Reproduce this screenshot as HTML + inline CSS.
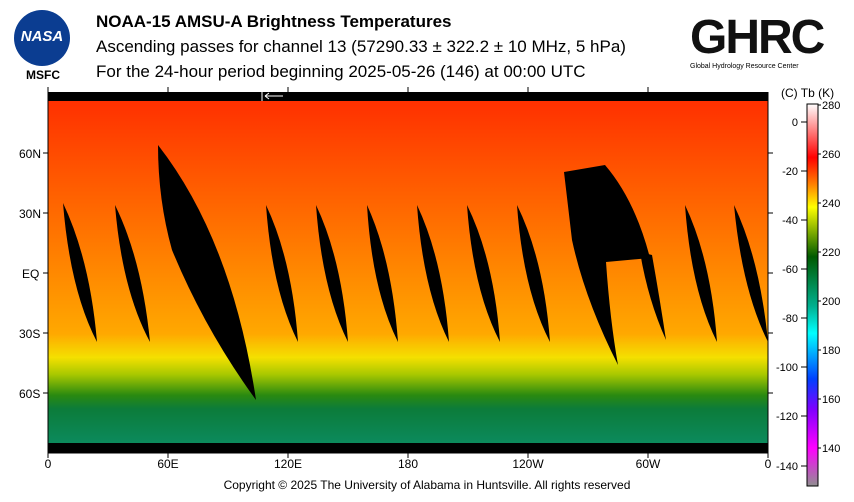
<!DOCTYPE html>
<html><head><meta charset="utf-8"><style>
body{margin:0;background:#fff;width:854px;height:502px;overflow:hidden;font-family:"Liberation Sans",Arial,sans-serif}
.t{position:absolute;left:96px;font-size:17px;color:#000;white-space:nowrap}
</style></head><body>
<div style="position:absolute;left:0;top:0;width:854px;height:502px">
<div style="position:absolute;left:14px;top:10px;width:56px;height:56px;border-radius:50%;background:#0b3d91"></div>
<div style="position:absolute;left:16px;top:28px;width:52px;font:bold italic 15px 'Liberation Sans';color:#fff;text-align:center">NASA</div>
<div style="position:absolute;left:26px;top:68px;font:bold 12px 'Liberation Sans'">MSFC</div>
<div class="t" style="top:12px;font-weight:bold">NOAA-15 AMSU-A Brightness Temperatures</div>
<div class="t" style="top:37px">Ascending passes for channel 13 (57290.33 ± 322.2 ± 10 MHz, 5 hPa)</div>
<div class="t" style="top:62px">For the 24-hour period beginning 2025-05-26 (146) at 00:00 UTC</div>
<div style="position:absolute;left:690px;top:10px;font:bold 48px 'Liberation Sans';letter-spacing:-2px;color:#111">GHRC</div>
<div style="position:absolute;left:690px;top:63px;font:7px 'Liberation Sans';color:#000">Global Hydrology Resource Center</div>
<svg width="854" height="502" style="position:absolute;left:0;top:0">
<defs>
<linearGradient id="m" x1="0" y1="0" x2="0" y2="1">
<stop offset="0" stop-color="#ff3000"/><stop offset="0.18" stop-color="#ff5000"/>
<stop offset="0.5" stop-color="#ff8800"/><stop offset="0.68" stop-color="#ffa800"/>
<stop offset="0.75" stop-color="#f4e000"/><stop offset="0.8" stop-color="#a8c800"/>
<stop offset="0.86" stop-color="#2a8a10"/><stop offset="0.9" stop-color="#0c7c3a"/>
<stop offset="1" stop-color="#0c8a5c"/></linearGradient>
<linearGradient id="c" x1="0" y1="0" x2="0" y2="1">
<stop offset="0" stop-color="#fff"/><stop offset="0.14" stop-color="#ff0000"/>
<stop offset="0.21" stop-color="#ff8000"/><stop offset="0.27" stop-color="#ffff00"/>
<stop offset="0.4" stop-color="#005a00"/><stop offset="0.53" stop-color="#00b090"/>
<stop offset="0.6" stop-color="#00ffff"/><stop offset="0.72" stop-color="#0040ff"/>
<stop offset="0.8" stop-color="#8000ff"/><stop offset="0.9" stop-color="#ff00ff"/>
<stop offset="1" stop-color="#909090"/></linearGradient>
</defs>
<rect x="48" y="92" width="720" height="361" fill="#000"/>
<rect x="48" y="101" width="720" height="342" fill="url(#m)"/>
<g fill="#000">
<path d="M63 203 Q90 260 97 342 Q70 290 63 203Z"/>
<path d="M115 205 Q142 260 150 342 Q122 290 115 205Z"/>
<path d="M158 145 Q232 240 256 400 Q205 330 172 250 Q158 200 158 145Z"/>
<path d="M266 205 Q292 260 298 342 Q272 290 266 205Z"/>
<path d="M316 205 Q342 260 348 342 Q322 290 316 205Z"/>
<path d="M367 205 Q392 260 398 342 Q372 290 367 205Z"/>
<path d="M417 205 Q443 260 449 342 Q423 290 417 205Z"/>
<path d="M467 205 Q494 260 500 342 Q473 290 467 205Z"/>
<path d="M517 205 Q544 260 550 342 Q523 290 517 205Z"/>
<path d="M564 172 L605 165 Q635 200 650 258 L606 262 Q610 320 618 365 Q585 300 572 240 Z"/>
<path d="M640 252 L652 255 Q660 300 666 340 Q648 300 640 252Z"/>
<path d="M685 205 Q711 260 717 342 Q691 290 685 205Z"/>
<path d="M734 205 Q760 260 768 342 Q742 290 734 205Z"/>
</g>
<g stroke="#fff" fill="none"><path d="M262 92v9M265 96h18M265 96l4-3M265 96l4 3"/></g>
<g stroke="#000" stroke-width="1" fill="none">
<path d="M48 92V453M768 92V453M48 453h720"/>
<path d="M43 153h5M43 213h5M43 273h5M43 333h5M43 393h5"/>
<path d="M768 153h5M768 213h5M768 273h5M768 333h5M768 393h5"/>
<path d="M48 453v5M168 453v5M288 453v5M408 453v5M528 453v5M648 453v5M768 453v5"/>
<path d="M48 92v-5M168 92v-5M288 92v-5M408 92v-5M528 92v-5M648 92v-5"/>
</g>
<g font-family="Liberation Sans" font-size="12" fill="#000">
<text x="19" y="158">60N</text><text x="19" y="218">30N</text><text x="22" y="278">EQ</text>
<text x="19" y="338">30S</text><text x="19" y="398">60S</text>
<g text-anchor="middle"><text x="48" y="468">0</text><text x="168" y="468">60E</text><text x="288" y="468">120E</text>
<text x="408" y="468">180</text><text x="528" y="468">120W</text><text x="648" y="468">60W</text><text x="768" y="468">0</text></g>
<text x="781" y="97">(C)  Tb  (K)</text>
</g>
<rect x="807" y="104" width="11" height="382" fill="url(#c)" stroke="#000"/>
<g font-family="Liberation Sans" font-size="11" fill="#000">
<g text-anchor="end"><text x="798" y="126">0</text><text x="798" y="175">-20</text><text x="798" y="224">-40</text>
<text x="798" y="273">-60</text><text x="798" y="322">-80</text><text x="798" y="371">-100</text>
<text x="798" y="420">-120</text><text x="798" y="470">-140</text></g>
<text x="822" y="109">280</text><text x="822" y="158">260</text><text x="822" y="207">240</text><text x="822" y="256">220</text>
<text x="822" y="305">200</text><text x="822" y="354">180</text><text x="822" y="403">160</text><text x="822" y="452">140</text>
</g>
<g stroke="#000" fill="none"><path d="M801 122h6M801 171h6M801 220h6M801 269h6M801 318h6M801 367h6M801 416h6M801 466h6M818 105h3M818 154h3M818 203h3M818 252h3M818 301h3M818 350h3M818 399h3M818 448h3"/></g>
</svg>
<div style="position:absolute;left:0;width:854px;top:478px;text-align:center;font-size:12px">Copyright © 2025 The University of Alabama in Huntsville.  All rights reserved</div>
</div>
</body></html>
